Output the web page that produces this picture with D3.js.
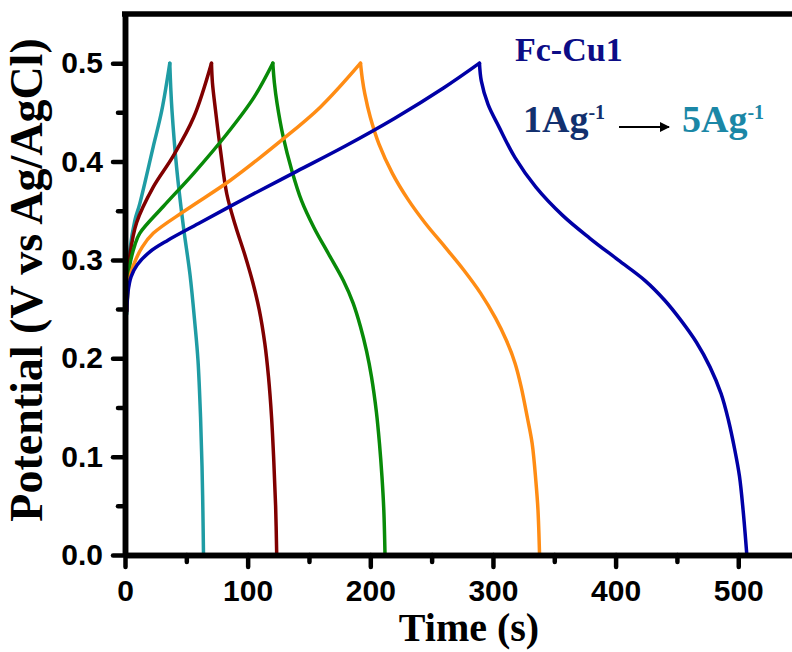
<!DOCTYPE html>
<html>
<head>
<meta charset="utf-8">
<script src="https://cdn.jsdelivr.net/npm/d3@7"></script>
<style>
  body { margin: 0; background: #fff; }
  svg { display: block; }
</style>
</head>
<body>
<div id="chart"></div>
<script>
// charge-discharge curves, [time (s), potential (V)]
const curve1A = [[1.5, 0.248], [2.5, 0.268], [5, 0.283], [10, 0.295], [20, 0.308], [35, 0.320],
  [60, 0.337], [100, 0.364], [140, 0.390], [180, 0.416], [220, 0.444], [260, 0.475], [289, 0.5],
  [290.5, 0.482], [296, 0.458], [305, 0.435], [318, 0.404], [335, 0.374], [357, 0.345], [379, 0.322],
  [402, 0.300], [424, 0.279], [440, 0.259], [453, 0.239], [466, 0.216], [477, 0.191], [486, 0.164],
  [492, 0.137], [497, 0.108], [501, 0.08], [504, 0.045], [507, 0.0]]

const curve2A = [[1.5, 0.248], [2.5, 0.270], [4, 0.283], [7, 0.295], [14, 0.313], [23, 0.327],
  [50, 0.351], [86, 0.381], [126, 0.420], [159, 0.455], [192, 0.5],
  [193.5, 0.484], [195.5, 0.469], [200, 0.445], [207, 0.418], [218, 0.388], [231, 0.361], [245, 0.337],
  [261, 0.313], [276, 0.290], [290, 0.266], [302, 0.241], [311, 0.218], [318, 0.195], [323, 0.171],
  [328, 0.140], [332, 0.113], [335, 0.075], [336.7, 0.046], [338, 0.0]]

const curve3A = [[1.5, 0.250], [2.5, 0.275], [4, 0.295], [8, 0.315], [12, 0.327], [31, 0.354],
  [56, 0.388], [83, 0.428], [105, 0.465], [120.5, 0.5],
  [121.8, 0.48], [124, 0.459], [129, 0.425], [136, 0.391], [144, 0.360], [154, 0.333], [166, 0.306],
  [178, 0.279], [186, 0.256], [192, 0.232], [197, 0.207], [201, 0.181], [205, 0.145], [207.5, 0.113],
  [209.5, 0.08], [211, 0.046], [212, 0.0]]

const curve4A = [[1.5, 0.248], [2.5, 0.285], [4, 0.305], [9.5, 0.338], [23, 0.374], [39, 0.405],
  [56, 0.445], [70.5, 0.5],
  [71.3, 0.48], [73.8, 0.452], [78, 0.41], [83, 0.367], [90, 0.335], [97.5, 0.306], [104, 0.278],
  [109.5, 0.249], [114, 0.215], [117, 0.181], [119.5, 0.14], [121.3, 0.096], [122.8, 0.05], [123.7, 0.0]]

const curve5A = [[1.5, 0.245], [2.5, 0.280], [4, 0.310], [8, 0.340], [12, 0.357], [23, 0.415],
  [30, 0.452], [36.5, 0.5],
  [37.3, 0.475], [38.3, 0.452], [42, 0.395], [47.5, 0.335], [53, 0.285], [57, 0.235], [59.5, 0.198],
  [61.6, 0.14], [62.8, 0.09], [63.5, 0.045], [64, 0.0]]

const seriesNames = ['1 A/g', '2 A/g', '3 A/g', '4 A/g', '5 A/g']
const seriesColors = ['#0000a6', '#ff8c14', '#088a08', '#800000', '#1f9ca4']
const seriesData = [curve1A, curve2A, curve3A, curve4A, curve5A]

const xMajor = [0, 100, 200, 300, 400, 500]
const xMinor = [50, 150, 250, 350, 450, 550]
const yMajor = [0.0, 0.1, 0.2, 0.3, 0.4, 0.5]
const yMinor = [0.05, 0.15, 0.25, 0.35, 0.45]

const w = 792
const h = 652
const padding = { left: 125, top: 14, bottom: 97 }

const xScale = d3.scaleLinear()
  .domain([0, 550])
  .range([padding.left, padding.left + 550 * 1.2265])

const yScale = d3.scaleLinear()
  .domain([0, 0.55])
  .range([h - padding.bottom, padding.top])

const svg = d3.select('#chart')
  .append('svg')
  .attr('width', w)
  .attr('height', h)

const line = d3.line()
  .x(d => xScale(d[0]))
  .y(d => yScale(d[1]))
  .curve(d3.curveCatmullRom.alpha(0.5))

// draw the fastest rate first so 1 A/g ends on top;
// charge and discharge branches are drawn apart so the peak stays sharp
for (let i = seriesData.length - 1; i >= 0; i--) {
  const data = seriesData[i]
  const peak = d3.maxIndex(data, d => d[1])
  const branches = [data.slice(0, peak + 1), data.slice(peak)]
  branches.forEach(b => {
    svg.append('path')
      .datum(b)
      .attr('d', line)
      .attr('fill', 'none')
      .attr('stroke', seriesColors[i])
      .attr('stroke-width', 3.5)
      .attr('stroke-linecap', 'round')
  })
}

// frame: top spine
svg.append('line')
  .attr('x1', xScale(0) - 3)
  .attr('x2', w + 10)
  .attr('y1', yScale(0.55))
  .attr('y2', yScale(0.55))
  .attr('stroke', '#000')
  .attr('stroke-width', 5.5)

const tickFont = 'bold 30px "Liberation Sans", Arial, sans-serif'

function styleAxis(g) {
  g.select('.domain').attr('stroke-width', 5.5).attr('stroke', '#000')
  g.selectAll('.tick line').attr('stroke-width', 4.5).attr('stroke-linecap', 'round')
  g.selectAll('.tick text').style('font', tickFont).attr('fill', '#000')
}

// minor ticks
svg.append('g')
  .attr('transform', 'translate(0,' + yScale(0) + ')')
  .call(d3.axisBottom(xScale).tickValues(xMinor).tickSize(7).tickSizeOuter(0).tickFormat(''))
  .call(styleAxis)

svg.append('g')
  .attr('transform', 'translate(' + xScale(0) + ',0)')
  .call(d3.axisLeft(yScale).tickValues(yMinor).tickSize(7).tickSizeOuter(0).tickFormat(''))
  .call(styleAxis)

const xAxis = d3.axisBottom(xScale)
  .tickValues(xMajor)
  .tickSize(12)
  .tickSizeOuter(0)
  .tickPadding(13)
  .tickFormat(d3.format('d'))

const yAxis = d3.axisLeft(yScale)
  .tickValues(yMajor)
  .tickSize(12)
  .tickSizeOuter(0)
  .tickPadding(10)
  .tickFormat(d3.format('.1f'))

svg.append('g')
  .attr('transform', 'translate(0,' + yScale(0) + ')')
  .call(xAxis)
  .call(styleAxis)

svg.append('g')
  .attr('transform', 'translate(' + xScale(0) + ',0)')
  .call(yAxis)
  .call(styleAxis)

const serif = '"Liberation Serif", "Times New Roman", serif'

svg.append('text')
  .attr('x', 469)
  .attr('y', 641)
  .attr('text-anchor', 'middle')
  .style('font', 'bold 40px ' + serif)
  .text('Time (s)')

svg.append('text')
  .attr('transform', 'translate(42,280) rotate(-90)')
  .attr('text-anchor', 'middle')
  .style('font', 'bold 46px ' + serif)
  .text('Potential (V vs Ag/AgCl)')

// annotations
svg.append('text')
  .attr('x', 515)
  .attr('y', 61)
  .style('font', 'bold 34px ' + serif)
  .attr('fill', '#0c0c86')
  .text('Fc-Cu1')

function rateLabel(x, color, value) {
  const t = svg.append('text')
    .attr('x', x)
    .attr('y', 132)
    .style('font', 'bold 38px ' + serif)
    .attr('fill', color)
  t.append('tspan').text(value + 'Ag')
  t.append('tspan')
    .attr('dy', -13)
    .style('font-size', '20px')
    .text('-1')
}

rateLabel(523, '#12306e', 1)
rateLabel(682, '#1b87a6', 5)

svg.append('defs').append('marker')
  .attr('id', 'arrow')
  .attr('viewBox', '0 0 10 10')
  .attr('refX', 9)
  .attr('refY', 5)
  .attr('markerWidth', 5)
  .attr('markerHeight', 5)
  .attr('orient', 'auto')
  .append('path')
  .attr('d', 'M0,0L10,5L0,10z')
  .attr('fill', '#000')

svg.append('line')
  .attr('x1', 619)
  .attr('x2', 669)
  .attr('y1', 127)
  .attr('y2', 127)
  .attr('stroke', '#000')
  .attr('stroke-width', 2)
  .attr('marker-end', 'url(#arrow)')
</script>
</body>
</html>
